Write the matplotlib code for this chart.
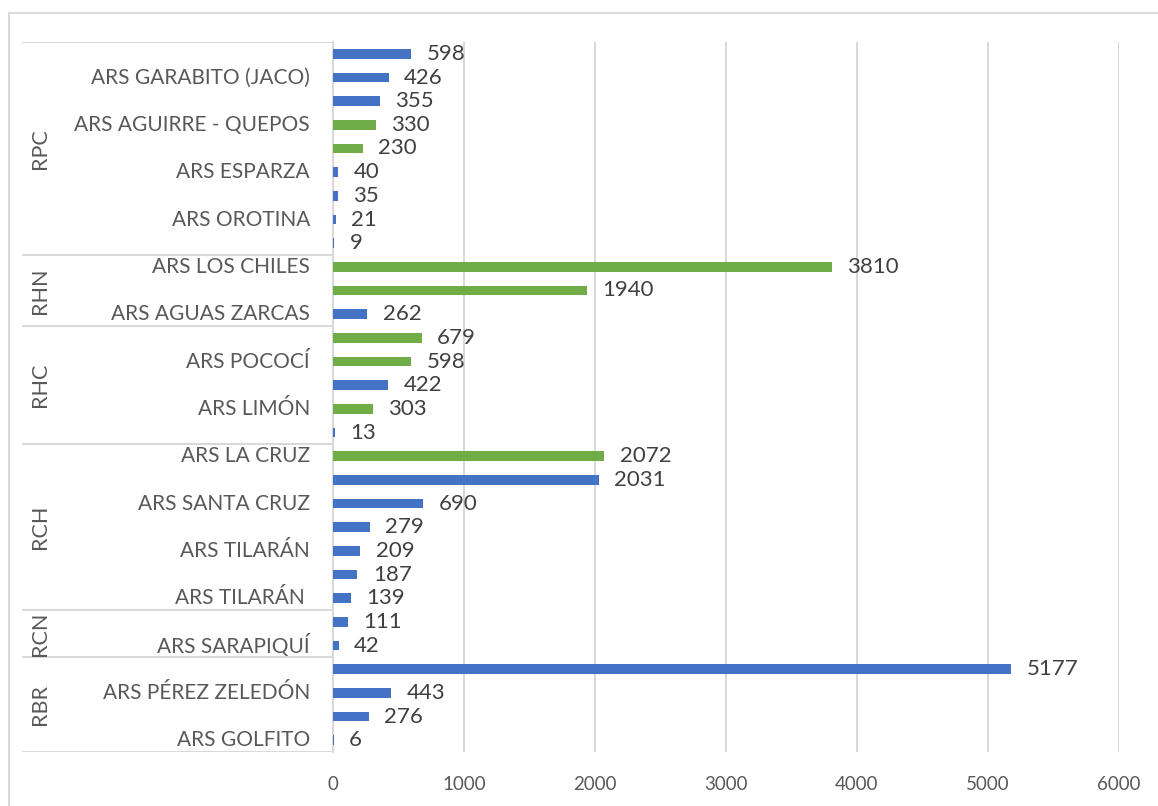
import matplotlib
matplotlib.use("Agg")
import matplotlib.pyplot as plt
from matplotlib.lines import Line2D
import numpy as np

# data, top to bottom
groups = ["RPC", "RHN", "RHC", "RCH", "RCN", "RBR"]
group_sizes = [9, 3, 5, 7, 2, 4]
labels = [
    "", "ARS GARABITO (JACO)", "", "ARS AGUIRRE - QUEPOS", "", "ARS ESPARZA", "", "ARS OROTINA", "",
    "ARS LOS CHILES", "", "ARS AGUAS ZARCAS",
    "", "ARS POCOCÍ", "", "ARS LIMÓN", "",
    "ARS LA CRUZ", "", "ARS SANTA CRUZ", "", "ARS TILARÁN", "", "ARS TILARÁN ",
    "", "ARS SARAPIQUÍ",
    "", "ARS PÉREZ ZELEDÓN", "", "ARS GOLFITO",
]
values = [598, 426, 355, 330, 230, 40, 35, 21, 9,
          3810, 1940, 262,
          679, 598, 422, 303, 13,
          2072, 2031, 690, 279, 209, 187, 139,
          111, 42,
          5177, 443, 276, 6]
series = ["b", "b", "b", "g", "g", "b", "b", "b", "b",
          "g", "g", "b",
          "g", "g", "b", "g", "b",
          "g", "b", "b", "b", "b", "b", "b",
          "b", "b",
          "b", "b", "b", "b"]

BLUE = "#4472C4"
GREEN = "#70AD47"
TXT = "#595959"
GRID = "#D9D9D9"

plt.rcParams["font.family"] = ["Lato", "DejaVu Sans"]

W, H = 1158, 806
fig = plt.figure(figsize=(W / 100, H / 100), dpi=100)

n = len(values)
ypos = np.arange(n)
top_px, bot_px = 42, 752
ax = fig.add_axes([333 / W, (H - bot_px) / H, (1119 - 333) / W, (bot_px - top_px) / H])
colors = [BLUE if s == "b" else GREEN for s in series]
ax.barh(ypos, values, height=0.4, color=colors, zorder=3)
for y, v in zip(ypos, values):
    ax.annotate(str(v), (v, y), xytext=(11, 0), textcoords="offset points",
                va="center", ha="left", fontsize=16, color="#404040")

ax.set_ylim(n - 0.5, -0.5)
ax.set_xlim(0, 6000)
ax.set_xticks(np.arange(0, 6001, 1000))
ax.set_yticks([])
ax.tick_params(axis="x", length=0, pad=17, labelsize=13.5, labelcolor=TXT)
ax.xaxis.grid(True, color=GRID, linewidth=1.5, zorder=0)
ax.set_axisbelow(True)
for s in ["top", "right", "bottom"]:
    ax.spines[s].set_visible(False)
ax.spines["left"].set_color(GRID)
ax.spines["left"].set_linewidth(1.5)

# category table on the left
cax = fig.add_axes([22 / W, (H - bot_px) / H, (333 - 22) / W, (bot_px - top_px) / H])
cax.set_xlim(0, 311)
cax.set_ylim(n - 0.5, -0.5)
cax.axis("off")
bounds = np.concatenate([[0], np.cumsum(group_sizes)]) - 0.5
for b in bounds:
    cax.plot([0, 311], [b, b], color=GRID, linewidth=1.5, solid_capstyle="butt")
for y, lab in zip(ypos, labels):
    if lab:
        cax.text(288, y, lab, ha="right", va="center", fontsize=15, color=TXT)
for g, lo, hi in zip(groups, bounds[:-1], bounds[1:]):
    cax.text(18, (lo + hi) / 2, g, rotation=90, ha="center", va="center",
             fontsize=15.5, color=TXT)

# chart border
fig.add_artist(Line2D([9 / W, 1], [1 - 13 / H, 1 - 13 / H], transform=fig.transFigure,
                      color=GRID, linewidth=1.5))
fig.add_artist(Line2D([9 / W, 9 / W], [0, 1 - 13 / H], transform=fig.transFigure,
                      color=GRID, linewidth=1.5))

fig.savefig("out.png", dpi=100)
